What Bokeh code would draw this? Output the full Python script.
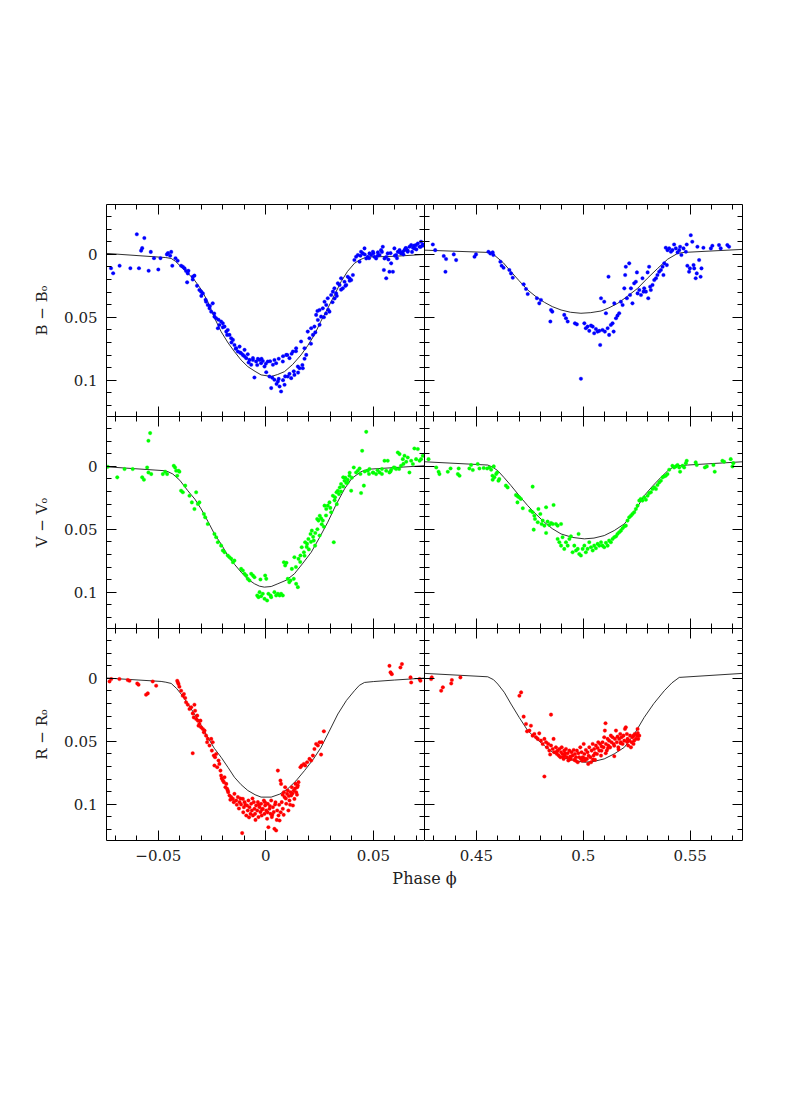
from bokeh.plotting import figure
from bokeh.layouts import column, row
from bokeh.models import (Range1d, LinearAxis, SingleIntervalTicker,
                          CustomJSTickFormatter, Label)
from bokeh.embed import file_html
from bokeh.resources import INLINE

# ---------------- data: (phase, delta-mag) ----------------
b_primary = [
    (-0.072, 0.011), (-0.071, 0.015), (-0.068, 0.009), (-0.063, 0.011), (-0.060, -0.016),
    (-0.059, 0.011), (-0.058, -0.003), (-0.0575, -0.005), (-0.0565, -0.013), (-0.0545, 0.013),
    (-0.0535, -0.002), (-0.052, 0.003), (-0.050, 0.012), (-0.049, 0.003), (-0.046, 0.0),
    (-0.0455, -0.001), (-0.0445, 0.001), (-0.044, -0.002), (-0.0435, 0.009), (-0.042, 0.003),
    (-0.041, 0.005), (-0.0394, 0.009), (-0.0386, 0.0098), (-0.0378, 0.0111), (-0.0371, 0.0132),
    (-0.0366, 0.0222), (-0.0363, 0.0151), (-0.034, 0.0177), (-0.0332, 0.0169), (-0.0309, 0.0283),
    (-0.0301, 0.0296), (-0.0293, 0.031), (-0.0278, 0.0376), (-0.027, 0.0402), (-0.0262, 0.0429),
    (-0.0254, 0.0455), (-0.0247, 0.0389), (-0.0239, 0.0495), (-0.0231, 0.0508), (-0.0223, 0.0587),
    (-0.0216, 0.0561), (-0.0208, 0.0534), (-0.02, 0.0548), (-0.0192, 0.0574), (-0.0184, 0.0614),
    (-0.0177, 0.0601), (-0.0169, 0.064), (-0.0161, 0.0667), (-0.0153, 0.068), (-0.0146, 0.072),
    (-0.0138, 0.0746), (-0.013, 0.0772), (-0.0122, 0.0733), (-0.0115, 0.0786), (-0.0107, 0.0799),
    (-0.0099, 0.0759), (-0.0091, 0.0825), (-0.0084, 0.0794), (-0.0076, 0.0839), (-0.0068, 0.0878),
    (-0.006, 0.0825), (-0.0053, 0.0979), (-0.0045, 0.0852), (-0.0037, 0.0831), (-0.0029, 0.0839),
    (-0.0022, 0.0865), (-0.0014, 0.0847), (-0.0006, 0.0892), (0.0002, 0.0937), (0.0009, 0.0852),
    (0.0017, 0.0971), (0.0025, 0.1063), (0.0033, 0.0878), (0.004, 0.0997), (0.0048, 0.0865),
    (0.0056, 0.1011), (0.0064, 0.105), (0.0071, 0.109), (0.0079, 0.0852), (0.0087, 0.1037),
    (0.0095, 0.0799), (0.0102, 0.0971), (0.011, 0.0825), (0.0118, 0.0984), (0.0126, 0.0772),
    (0.0133, 0.0958), (0.0141, 0.0746), (0.0149, 0.0892), (0.0157, 0.0905), (0.0164, 0.0693),
    (0.0172, 0.0905), (0.018, 0.0746), (0.0188, 0.0799), (0.0195, 0.0614), (0.0203, 0.0667),
    (0.0211, 0.0587), (0.0219, 0.064), (0.0226, 0.0574), (0.0234, 0.0481), (0.0242, 0.0521),
    (0.025, 0.0442), (0.0257, 0.0495), (0.0265, 0.0429), (0.0273, 0.0376), (0.0281, 0.0402),
    (0.0288, 0.0349), (0.0296, 0.0455), (0.0304, 0.0323), (0.0312, 0.0296), (0.0319, 0.027),
    (0.0327, 0.031), (0.0335, 0.023), (0.0343, 0.0243), (0.035, 0.019), (0.0358, 0.027),
    (0.0366, 0.0217), (0.0374, 0.0243), (0.0381, 0.0177), (0.0389, 0.019), (0.0397, 0.0204),
    (0.0405, 0.0164), (0.0412, 0.0045), (0.042, 0.0019), (0.0428, 0.0005), (0.0436, 0.0058),
    (0.0443, -0.0021), (0.0451, -0.0008), (0.0459, -0.0048), (0.0467, 0.0032), (0.0474, 0.0019),
    (0.0482, -0.0008), (0.049, 0.0005), (0.0498, -0.0021), (0.0505, 0.0019), (0.0513, 0.0032),
    (0.0521, -0.0016), (0.0529, 0.0005), (0.0536, -0.0034), (0.0544, -0.0061), (0.0549, 0.0124),
    (0.0552, 0.0032), (0.056, 0.019), (0.0567, -0.0008), (0.0575, 0.0138), (0.0583, 0.0071),
    (0.0591, 0.0138), (0.0598, -0.0048), (0.0606, 0.0005), (0.0614, -0.0021), (0.0622, -0.0034),
    (0.0629, -0.0008), (0.0637, -0.0021), (0.0645, -0.0034), (0.0653, -0.0048), (0.066, -0.0021),
    (0.0668, -0.0061), (0.0676, -0.0074), (0.0684, -0.0053), (0.0691, -0.0048), (0.0699, -0.0074),
    (0.0707, -0.0087), (0.0715, -0.0061), (0.0722, -0.0101), (0.073, -0.0079),
    (-0.008, 0.086), (-0.006, 0.084), (-0.004, 0.088), (-0.002, 0.083), (0.0, 0.087),
    (0.002, 0.085), (0.004, 0.084), (0.006, 0.083), (0.008, 0.081), (0.010, 0.080),
    (0.012, 0.079), (0.014, 0.077), (0.003, 0.098), (0.005, 0.103), (0.006, 0.099),
    (0.008, 0.1), (0.009, 0.097), (0.011, 0.095), (0.013, 0.093), (0.015, 0.094),
    (0.017, 0.088), (0.018, 0.083), (-0.03, 0.033), (-0.028, 0.036), (-0.026, 0.041),
    (-0.024, 0.047), (-0.022, 0.052), (-0.02, 0.058), (-0.018, 0.064), (-0.016, 0.07),
    (-0.014, 0.075), (-0.012, 0.078), (-0.01, 0.081), (-0.036, 0.013), (-0.034, 0.02),
    (-0.032, 0.025), (0.021, 0.071), (0.023, 0.062), (0.025, 0.056), (0.027, 0.05),
    (0.029, 0.044), (0.031, 0.038), (0.033, 0.033), (0.035, 0.028), (0.037, 0.025),
    (0.039, 0.021), (0.024, 0.045), (0.028, 0.047), (0.032, 0.035), (0.044, 0.001),
    (0.046, 0.0), (0.048, 0.003), (0.05, -0.001), (0.052, 0.001), (0.054, -0.002),
    (0.056, 0.002), (0.058, -0.001), (0.06, 0.001), (0.062, -0.002), (0.064, 0.0),
    (0.066, -0.003), (0.068, -0.002), (0.07, -0.004), (0.072, -0.006), (0.057, 0.004),
    (0.061, 0.003), (0.065, -0.005), (0.069, -0.007), (0.073, -0.007),
]

b_secondary = [
    (0.4296, -0.0079), (0.4307, -0.0034), (0.4347, 0.0013), (0.4358, 0.0037), (0.4355, 0.0138),
    (0.4394, 0.0), (0.4405, 0.0045), (0.4491, 0.0019), (0.4498, 0.0), (0.4556, -0.0021),
    (0.4565, -0.0008), (0.4576, -0.0016), (0.4579, 0.0005), (0.4612, 0.0058), (0.4618, 0.009),
    (0.4627, 0.0106), (0.4654, 0.0124), (0.4662, 0.0151), (0.467, 0.0185), (0.4721, 0.0238),
    (0.4732, 0.0275), (0.474, 0.0315), (0.4783, 0.0349), (0.4794, 0.0389), (0.4802, 0.0362),
    (0.4849, 0.0442), (0.4855, 0.0455), (0.4846, 0.0534), (0.4911, 0.0481), (0.4919, 0.0508),
    (0.4927, 0.0534), (0.4961, 0.0548), (0.497, 0.0556), (0.5005, 0.0548), (0.5012, 0.0587),
    (0.502, 0.0574), (0.5028, 0.0608), (0.5036, 0.0566), (0.5044, 0.0574), (0.5051, 0.0627),
    (0.5059, 0.0593), (0.5067, 0.0614), (0.5075, 0.0608), (0.5079, 0.072), (0.5083, 0.0349),
    (0.509, 0.0601), (0.5098, 0.0376), (0.5101, 0.0614), (0.5106, 0.0468), (0.5114, 0.0587),
    (0.5118, 0.0177), (0.5121, 0.064), (0.5129, 0.0561), (0.5137, 0.0548), (0.5142, 0.0614),
    (0.5145, 0.0389), (0.5153, 0.0508), (0.516, 0.0487), (0.5168, 0.0468), (0.5176, 0.0376),
    (0.5184, 0.0402), (0.5192, 0.027), (0.5196, 0.0164), (0.5199, 0.0098), (0.5204, 0.0349),
    (0.5215, 0.0071), (0.5219, 0.0323), (0.5223, 0.027), (0.523, 0.0389), (0.5238, 0.023),
    (0.5246, 0.0217), (0.5251, 0.0143), (0.5254, 0.031), (0.5262, 0.0283), (0.527, 0.0323),
    (0.5277, 0.019), (0.5282, 0.0296), (0.5285, 0.027), (0.5293, 0.0296), (0.5301, 0.0143),
    (0.5304, 0.0349), (0.5308, 0.0098), (0.5313, 0.0257), (0.5316, 0.0283), (0.5324, 0.0243),
    (0.5332, 0.0204), (0.534, 0.019), (0.5347, 0.0164), (0.5355, 0.0138), (0.5363, 0.0124),
    (0.5371, 0.0098), (0.5375, 0.0164), (0.5379, 0.0071), (0.5386, -0.0053), (0.5391, 0.0085),
    (0.5394, -0.0034), (0.5402, -0.0048), (0.541, -0.0021), (0.5417, -0.0034), (0.5425, -0.0079),
    (0.5433, -0.0048), (0.5441, -0.0016), (0.5449, -0.0034), (0.5453, -0.0061), (0.5459, 0.0005),
    (0.5469, -0.0048), (0.548, -0.0021), (0.5484, -0.0079), (0.5487, 0.009), (0.5495, 0.0138),
    (0.5499, 0.0111), (0.5503, -0.0153), (0.551, -0.0101), (0.5516, 0.0085), (0.5519, 0.0111),
    (0.5526, 0.019), (0.5531, 0.0151), (0.5534, -0.0061), (0.5542, 0.0045), (0.5549, 0.0177),
    (0.5553, 0.0111), (0.5562, -0.0053), (0.5597, -0.0048), (0.5604, -0.0069), (0.5635, -0.0074),
    (0.5643, -0.0048), (0.5674, -0.0074), (0.5682, -0.0061), (0.4989, 0.0989),
]

v_primary = [
    (-0.0735, 0.0003), (-0.0691, 0.0087), (-0.0657, 0.0021), (-0.0619, 0.0021), (-0.0575, 0.0087),
    (-0.0567, 0.0106), (-0.0552, 0.0008), (-0.0546, -0.0204), (-0.0538, -0.0265), (-0.0546, 0.0048),
    (-0.0533, 0.0061), (-0.0479, 0.0061), (-0.0468, 0.0042), (-0.0459, 0.0061), (-0.0428, -0.0005),
    (-0.0422, 0.0008), (-0.0417, 0.0034), (-0.0412, 0.0074), (-0.0406, 0.0034), (-0.0402, 0.0042),
    (-0.0394, 0.0193), (-0.0386, 0.0206), (-0.0375, 0.0153), (-0.0355, 0.0233), (-0.0344, 0.0286),
    (-0.0332, 0.0339), (-0.0324, 0.0206), (-0.0316, 0.0299), (-0.0309, 0.0286), (-0.0288, 0.0378),
    (-0.0282, 0.0405), (-0.027, 0.0458), (-0.0239, 0.0537), (-0.0231, 0.0563), (-0.0223, 0.0603),
    (-0.0208, 0.063), (-0.02, 0.0669), (-0.0192, 0.0683), (-0.0177, 0.0709), (-0.0169, 0.0722),
    (-0.0161, 0.0735), (-0.0153, 0.0762), (-0.0146, 0.0749), (-0.0115, 0.0815), (-0.0107, 0.0828),
    (-0.0099, 0.0854), (-0.0091, 0.0868), (-0.0084, 0.0894), (-0.0076, 0.0907), (-0.0068, 0.0854),
    (-0.006, 0.0868), (-0.0053, 0.0881), (-0.004, 0.1026), (-0.0034, 0.104), (-0.0029, 0.1),
    (-0.0025, 0.0899), (-0.0022, 0.1032), (-0.0014, 0.1013), (-0.0006, 0.1053), (-0.0003, 0.0868),
    (0.0002, 0.0894), (0.0006, 0.1066), (0.0012, 0.1013), (0.0022, 0.1026), (0.0025, 0.104),
    (0.004, 0.1), (0.0048, 0.1026), (0.0056, 0.1013), (0.0064, 0.1026), (0.0071, 0.1013),
    (0.0079, 0.1026), (0.0084, 0.0762), (0.009, 0.0788), (0.0096, 0.0767), (0.0102, 0.0894),
    (0.0109, 0.0921), (0.0115, 0.0907), (0.0121, 0.0815), (0.013, 0.0894), (0.0133, 0.0722),
    (0.0141, 0.0934), (0.0149, 0.096), (0.0152, 0.0735), (0.0161, 0.0709), (0.0167, 0.0643),
    (0.0177, 0.0683), (0.0183, 0.0603), (0.0192, 0.0616), (0.0198, 0.0577), (0.0208, 0.0537),
    (0.0214, 0.0511), (0.0223, 0.059), (0.0229, 0.063), (0.0239, 0.0418), (0.0245, 0.0431),
    (0.0251, 0.0392), (0.0257, 0.0413), (0.0265, 0.0431), (0.0273, 0.0312), (0.0281, 0.0339),
    (0.0288, 0.0312), (0.0296, 0.0286), (0.0304, 0.0365), (0.0312, 0.0233), (0.0316, 0.0603),
    (0.0322, 0.0246), (0.0329, 0.0206), (0.0335, 0.0193), (0.0344, 0.0167), (0.035, 0.014),
    (0.036, 0.0087), (0.0366, 0.0114), (0.0374, 0.0132), (0.0381, 0.0106), (0.0389, 0.0074),
    (0.0397, 0.0193), (0.0409, 0.0008), (0.042, 0.0048), (0.0428, 0.0034), (0.0436, 0.0016),
    (0.0443, 0.0212), (0.0448, -0.0124), (0.0456, 0.0153), (0.0467, -0.0275), (0.0474, 0.0034),
    (0.0482, 0.0021), (0.0498, 0.0048), (0.0513, 0.0061), (0.0529, 0.0048), (0.054, 0.0021),
    (0.0552, -0.0045), (0.056, 0.0034), (0.0567, -0.0045), (0.0575, 0.0048), (0.0583, 0.0026),
    (0.0595, 0.0008), (0.0606, 0.0021), (0.0614, -0.0111), (0.0622, -0.0098), (0.0629, -0.0005),
    (0.0637, -0.0058), (0.0645, -0.0085), (0.0653, -0.0037), (0.066, -0.0071), (0.0668, 0.0048),
    (0.0676, -0.0045), (0.0684, -0.0019), (0.0691, -0.0143), (0.0699, -0.0058), (0.0707, -0.0138),
    (0.0715, -0.0045), (0.0722, -0.0058), (0.073, -0.0085),
    (0.014, 0.08), (0.016, 0.076), (0.018, 0.071), (0.02, 0.066), (0.022, 0.056),
    (0.024, 0.05), (0.026, 0.046), (0.028, 0.039), (0.03, 0.033), (0.032, 0.027),
    (0.034, 0.022), (0.036, 0.016), (0.038, 0.013), (0.04, 0.009), (0.025, 0.055),
    (0.027, 0.048), (0.019, 0.064), (0.021, 0.06), (0.023, 0.053), (0.033, 0.03),
    (0.035, 0.02), (0.037, 0.009), (0.039, 0.005), (0.044, 0.006), (0.046, 0.004),
    (0.048, 0.006), (0.05, 0.005), (0.052, 0.003), (0.054, 0.006), (0.058, 0.004),
    (0.06, 0.001), (0.062, 0.002), (0.064, -0.002),
]

v_secondary = [
    (0.4276, -0.0058), (0.4312, 0.0008), (0.4323, 0.0042), (0.4327, 0.0061), (0.4366, 0.0042),
    (0.4379, 0.0016), (0.4413, 0.0061), (0.4421, 0.0074), (0.4417, 0.0016), (0.4467, 0.0016),
    (0.4475, -0.0011), (0.4483, 0.0029), (0.4506, -0.0019), (0.4514, 0.0016), (0.4534, 0.0013),
    (0.455, 0.0016), (0.4561, 0.0008), (0.4569, 0.0026), (0.4581, 0.0), (0.4575, 0.0074),
    (0.4584, 0.0087), (0.4592, 0.0061), (0.4597, 0.0048), (0.4603, 0.0114), (0.4607, 0.0101),
    (0.4576, 0.0106), (0.4638, 0.0153), (0.4646, 0.0167), (0.4685, 0.0228), (0.4693, 0.0238),
    (0.47, 0.0246), (0.4692, 0.0286), (0.4708, 0.0259), (0.4717, 0.0333), (0.4752, 0.0352),
    (0.4763, 0.0161), (0.4763, 0.0365), (0.4771, 0.0392), (0.4774, 0.0418), (0.4768, 0.0503),
    (0.4787, 0.0444), (0.479, 0.0339), (0.4799, 0.0378), (0.4805, 0.0458), (0.481, 0.0431),
    (0.4818, 0.0471), (0.4826, 0.0325), (0.4826, 0.0529), (0.4833, 0.0439), (0.4841, 0.0466),
    (0.4849, 0.045), (0.4857, 0.0458), (0.4861, 0.0307), (0.4872, 0.0458), (0.488, 0.0471),
    (0.4896, 0.0458), (0.488, 0.0577), (0.4888, 0.0603), (0.4896, 0.063), (0.4903, 0.0563),
    (0.4911, 0.0656), (0.4919, 0.0603), (0.4927, 0.063), (0.4935, 0.0577), (0.4942, 0.0556),
    (0.495, 0.0683), (0.4958, 0.063), (0.4966, 0.0669), (0.4974, 0.0656), (0.4978, 0.0537),
    (0.4981, 0.0696), (0.4989, 0.0709), (0.4997, 0.0656), (0.5005, 0.063), (0.5012, 0.0683),
    (0.502, 0.0656), (0.5028, 0.0603), (0.5036, 0.0643), (0.5044, 0.0669), (0.5051, 0.063),
    (0.5059, 0.0651), (0.5067, 0.0616), (0.5075, 0.063), (0.5083, 0.0603), (0.509, 0.063),
    (0.5098, 0.0643), (0.5106, 0.0608), (0.5114, 0.063), (0.5121, 0.059), (0.5129, 0.0603),
    (0.5137, 0.0577), (0.5145, 0.0563), (0.5153, 0.0556), (0.516, 0.0537), (0.5168, 0.0524),
    (0.5176, 0.0511), (0.5184, 0.0492), (0.5192, 0.0476), (0.5199, 0.0471), (0.5207, 0.0431),
    (0.5215, 0.0405), (0.5223, 0.0392), (0.523, 0.0378), (0.5238, 0.0365), (0.5246, 0.0339),
    (0.5254, 0.0312), (0.5262, 0.0272), (0.5269, 0.0259), (0.5277, 0.0272), (0.5285, 0.0246),
    (0.5293, 0.0265), (0.5301, 0.0233), (0.5308, 0.0212), (0.5316, 0.0206), (0.5324, 0.018),
    (0.5332, 0.0167), (0.534, 0.018), (0.5347, 0.0148), (0.5355, 0.0127), (0.5363, 0.0114),
    (0.5371, 0.0087), (0.5379, 0.0079), (0.5386, 0.0074), (0.5394, 0.0061), (0.5402, 0.0026),
    (0.5417, -0.0005), (0.5425, 0.0008), (0.5433, 0.0), (0.5441, -0.0011), (0.5449, 0.0008),
    (0.5453, 0.0042), (0.5464, -0.0005), (0.5472, 0.0008), (0.548, -0.0026), (0.5484, -0.0045),
    (0.5526, -0.0032), (0.5531, -0.0011), (0.5569, 0.0008), (0.5578, 0.0), (0.5609, -0.0011),
    (0.5615, 0.0042), (0.5651, -0.0045), (0.5659, -0.0037), (0.569, -0.0058), (0.5698, 0.0),
    (0.5702, -0.0026),
]

r_primary = [
    (-0.0727, 0.0024), (-0.0719, 0.0005), (-0.0681, 0.0005), (-0.0642, 0.0013), (-0.0634, 0.0019),
    (-0.0598, 0.004), (-0.0592, 0.005), (-0.0557, 0.013), (-0.0549, 0.0119), (-0.0526, 0.0024),
    (-0.051, 0.0058), (-0.0412, 0.0019), (-0.0409, 0.0032), (-0.0406, 0.0045), (-0.0402, 0.0066),
    (-0.0394, 0.0098), (-0.0386, 0.0138), (-0.0381, 0.0124), (-0.0375, 0.0156), (-0.0371, 0.019),
    (-0.0363, 0.0209), (-0.0355, 0.0243), (-0.0347, 0.023), (-0.034, 0.0278), (-0.0335, 0.031),
    (-0.0332, 0.0209), (-0.0329, 0.0257), (-0.0324, 0.0323), (-0.0319, 0.0296), (-0.0316, 0.0336),
    (-0.0313, 0.0376), (-0.0309, 0.0362), (-0.0304, 0.0336), (-0.0301, 0.0389), (-0.0293, 0.0402),
    (-0.0288, 0.0429), (-0.0285, 0.0415), (-0.034, 0.0595), (-0.0278, 0.0455), (-0.0273, 0.0508),
    (-0.027, 0.0481), (-0.0262, 0.0534), (-0.0254, 0.0481), (-0.0251, 0.0574), (-0.0247, 0.0508),
    (-0.0242, 0.0614), (-0.0239, 0.0693), (-0.0236, 0.0627), (-0.0231, 0.0601), (-0.0226, 0.0706),
    (-0.022, 0.0653), (-0.0216, 0.068), (-0.0211, 0.0733), (-0.0208, 0.0772), (-0.02, 0.0812),
    (-0.0195, 0.0825), (-0.0192, 0.0786), (-0.0184, 0.0839), (-0.018, 0.0878), (-0.0177, 0.0892),
    (-0.0169, 0.0931), (-0.0161, 0.0944), (-0.0153, 0.0958), (-0.0149, 0.0984), (-0.0146, 0.0918),
    (-0.0138, 0.0971), (-0.013, 0.0944), (-0.0122, 0.0984), (-0.0115, 0.1003), (-0.011, 0.123),
    (-0.0107, 0.0958), (-0.0102, 0.1024), (-0.0099, 0.0984), (-0.0091, 0.109), (-0.0087, 0.1011),
    (-0.0084, 0.105), (-0.0081, 0.0971), (-0.0076, 0.1024), (-0.0071, 0.1077), (-0.0068, 0.0997),
    (-0.0065, 0.105), (-0.006, 0.109), (-0.0056, 0.0984), (-0.0053, 0.1037), (-0.005, 0.1077),
    (-0.0045, 0.1011), (-0.004, 0.105), (-0.0037, 0.0984), (-0.0034, 0.1103), (-0.0029, 0.1024),
    (-0.0025, 0.1063), (-0.0022, 0.0997), (-0.0019, 0.109), (-0.0014, 0.1037), (-0.0009, 0.0971),
    (-0.0006, 0.1077), (-0.0003, 0.1011), (0.0002, 0.105), (0.0006, 0.1116), (0.0009, 0.0997),
    (0.0012, 0.1183), (0.0017, 0.1037), (0.0022, 0.1077), (0.0025, 0.0971), (0.0028, 0.1103),
    (0.0033, 0.1024), (0.0037, 0.1063), (0.004, 0.1196), (0.0043, 0.1003), (0.0048, 0.1209),
    (0.0053, 0.105), (0.0056, 0.0733), (0.0059, 0.109), (0.0064, 0.113), (0.0068, 0.0812),
    (0.0071, 0.0839), (0.0074, 0.0984), (0.0079, 0.1037), (0.0084, 0.0905), (0.0087, 0.0944),
    (0.009, 0.0865), (0.0095, 0.0997), (0.0099, 0.0918), (0.0102, 0.0892), (0.0105, 0.105),
    (0.011, 0.0971), (0.0115, 0.0905), (0.0118, 0.0931), (0.0121, 0.0865), (0.0126, 0.1011),
    (0.013, 0.0892), (0.0133, 0.0958), (0.0138, 0.0839), (0.0141, 0.0905), (0.0146, 0.0865),
    (0.0149, 0.0852), (0.0152, 0.0825), (0.0161, 0.0706), (0.0167, 0.0693), (0.0177, 0.068),
    (0.0183, 0.0693), (0.0192, 0.0667), (0.0203, 0.064), (0.0211, 0.0653), (0.0219, 0.0614),
    (0.0226, 0.0561), (0.0234, 0.0521), (0.0242, 0.0534), (0.025, 0.0508), (0.0257, 0.0606),
    (0.026, 0.0508), (0.027, 0.0421), (0.058, -0.0048), (0.0575, -0.01), (0.0586, -0.0034),
    (0.0626, -0.0087), (0.0633, -0.0114), (0.0673, -0.0008), (0.0676, 0.0032), (0.0715, 0.0005),
    (0.0719, 0.0019),
    (-0.0135, 0.1005), (-0.0125, 0.1035), (-0.0118, 0.0955), (-0.0105, 0.1065), (-0.0095, 0.1005),
    (-0.0078, 0.1105), (-0.0062, 0.0955), (-0.0048, 0.1125), (-0.0032, 0.1005), (-0.0018, 0.1045),
    (-0.0004, 0.0985), (0.0008, 0.1065), (0.0019, 0.1015), (0.003, 0.1085), (0.0045, 0.0985),
    (0.0051, 0.1125), (0.0062, 0.1005), (0.0069, 0.1065), (0.0078, 0.0925), (0.0083, 0.1085),
    (0.0093, 0.0955), (0.0107, 0.0935), (0.0113, 0.1005), (0.0124, 0.0915), (0.0136, 0.0875),
    (0.0145, 0.0925), (-0.0175, 0.0905), (-0.0165, 0.0965), (-0.0188, 0.0865), (-0.0205, 0.0795),
]

r_secondary = [
    (0.4288, 0.0005), (0.4291, -0.0008), (0.4335, 0.0098), (0.4343, 0.0071), (0.4382, 0.004),
    (0.4385, 0.0013), (0.4425, -0.0008), (0.4701, 0.0138), (0.4709, 0.0111), (0.4721, 0.0304),
    (0.4732, 0.0362), (0.4737, 0.0421), (0.4748, 0.0415), (0.4755, 0.0376), (0.4763, 0.0455),
    (0.4771, 0.0442), (0.4779, 0.0468), (0.4787, 0.0481), (0.4794, 0.0437), (0.4802, 0.0495),
    (0.481, 0.0521), (0.4818, 0.0481), (0.4818, 0.078), (0.4826, 0.0508), (0.483, 0.0548),
    (0.4836, 0.0521), (0.4841, 0.0574), (0.4849, 0.0288), (0.4849, 0.0534), (0.4857, 0.0561),
    (0.4861, 0.0481), (0.4864, 0.0587), (0.4872, 0.0548), (0.4877, 0.0601), (0.488, 0.0574),
    (0.4885, 0.0614), (0.4888, 0.0561), (0.4893, 0.0627), (0.4896, 0.0587), (0.4899, 0.0548),
    (0.4903, 0.0601), (0.4908, 0.064), (0.4911, 0.0574), (0.4914, 0.0614), (0.4919, 0.0561),
    (0.4924, 0.0627), (0.4927, 0.0595), (0.493, 0.0653), (0.4935, 0.0574), (0.4939, 0.0622),
    (0.4942, 0.064), (0.4945, 0.0587), (0.495, 0.0614), (0.4955, 0.0569), (0.4958, 0.0648),
    (0.4961, 0.0601), (0.4966, 0.0627), (0.497, 0.0574), (0.4974, 0.0667), (0.4977, 0.0595),
    (0.4981, 0.0627), (0.4986, 0.0548), (0.4989, 0.064), (0.4992, 0.0587), (0.4997, 0.0627),
    (0.5002, 0.0521), (0.5005, 0.0601), (0.5008, 0.0653), (0.5012, 0.0569), (0.5017, 0.064),
    (0.502, 0.0587), (0.5023, 0.068), (0.5028, 0.0548), (0.5033, 0.0627), (0.5036, 0.0667),
    (0.5039, 0.0574), (0.5044, 0.0521), (0.5048, 0.0614), (0.5051, 0.0561), (0.5055, 0.0648),
    (0.5059, 0.0534), (0.5064, 0.0601), (0.5067, 0.0553), (0.507, 0.0508), (0.5075, 0.0574),
    (0.5079, 0.0521), (0.5083, 0.0614), (0.5086, 0.0542), (0.509, 0.0508), (0.5095, 0.0548),
    (0.5098, 0.0468), (0.5101, 0.0415), (0.5104, 0.0357), (0.5106, 0.0521), (0.511, 0.0574),
    (0.5114, 0.0481), (0.5117, 0.0534), (0.5121, 0.0495), (0.5126, 0.0548), (0.5129, 0.0455),
    (0.5132, 0.0508), (0.5137, 0.0468), (0.5142, 0.0521), (0.5145, 0.0619), (0.5148, 0.0481),
    (0.5153, 0.0415), (0.5157, 0.0508), (0.516, 0.0463), (0.5164, 0.0548), (0.5168, 0.0481),
    (0.5173, 0.0442), (0.5176, 0.0508), (0.5179, 0.0468), (0.5184, 0.0521), (0.5188, 0.0455),
    (0.5192, 0.0495), (0.5195, 0.0402), (0.5199, 0.0389), (0.5204, 0.0442), (0.5207, 0.0481),
    (0.521, 0.0534), (0.5215, 0.0495), (0.5219, 0.0455), (0.5223, 0.0548), (0.5226, 0.0508),
    (0.523, 0.0468), (0.5235, 0.0521), (0.5238, 0.0495), (0.5241, 0.0442), (0.5246, 0.0481),
    (0.5251, 0.0455), (0.5254, 0.0402), (0.5257, 0.0481), (0.5262, 0.0455),
    (0.4875, 0.0585), (0.4905, 0.0625), (0.4935, 0.0645), (0.4965, 0.0655), (0.4995, 0.0655),
    (0.5025, 0.0615), (0.5055, 0.0595), (0.5085, 0.0575), (0.5115, 0.0555), (0.5145, 0.0535),
    (0.5175, 0.0515), (0.5205, 0.0505), (0.5235, 0.0455), (0.5255, 0.0435), (0.4845, 0.0605),
    (0.4915, 0.0595), (0.5005, 0.0635), (0.5045, 0.0645), (0.5105, 0.0595), (0.5165, 0.0565),
]

# model light curves (phase, delta-mag)
b_model_primary = [(-0.0741, -0.0008), (-0.0465, 0.0025), (-0.044, 0.0032), (-0.042, 0.0055),
                   (-0.0394, 0.0098), (-0.0365, 0.0145), (-0.0332, 0.0204), (-0.030, 0.028),
                   (-0.027, 0.0376), (-0.024, 0.050), (-0.0208, 0.0614), (-0.0175, 0.0705),
                   (-0.0146, 0.0773), (-0.0115, 0.084), (-0.0084, 0.0892), (-0.005, 0.093),
                   (-0.0022, 0.0958), (0.0025, 0.0971), (0.0055, 0.0955), (0.0087, 0.0932),
                   (0.0125, 0.0875), (0.0164, 0.0799), (0.0195, 0.0725), (0.0226, 0.064),
                   (0.0255, 0.0535), (0.0288, 0.0429), (0.032, 0.032), (0.035, 0.0217),
                   (0.038, 0.0135), (0.0412, 0.0071), (0.0435, 0.0045), (0.0459, 0.0027),
                   (0.049, 0.002), (0.0598, 0.0015), (0.0741, 0.0)]
b_model_secondary = [(0.4257, -0.0034), (0.4553, -0.0016), (0.457, -0.0008), (0.4584, 0.0006),
                     (0.4625, 0.0065), (0.4662, 0.0138), (0.470, 0.021), (0.474, 0.0283),
                     (0.478, 0.0338), (0.4818, 0.0381), (0.4855, 0.0415), (0.4896, 0.0442),
                     (0.494, 0.046), (0.4989, 0.0468), (0.5035, 0.0463), (0.5083, 0.045),
                     (0.512, 0.0425), (0.5161, 0.0389), (0.5205, 0.0335), (0.5254, 0.027),
                     (0.530, 0.019), (0.5348, 0.0111), (0.5395, 0.0038), (0.5441, -0.0008),
                     (0.5472, -0.0016), (0.5745, -0.004)]
v_model_primary = [(-0.0741, 0.0003), (-0.0472, 0.0034), (-0.0455, 0.0042), (-0.0433, 0.006),
                   (-0.040, 0.011), (-0.0363, 0.0193), (-0.033, 0.026), (-0.0301, 0.0338),
                   (-0.027, 0.0435), (-0.0239, 0.0537), (-0.0205, 0.0625), (-0.0177, 0.0709),
                   (-0.0145, 0.078), (-0.0115, 0.0841), (-0.0085, 0.0895), (-0.0053, 0.0933),
                   (-0.003, 0.0952), (-0.0007, 0.096), (0.0025, 0.0955), (0.0056, 0.0933),
                   (0.0095, 0.0905), (0.0133, 0.0854), (0.017, 0.0775), (0.0211, 0.0683),
                   (0.025, 0.0565), (0.0288, 0.0444), (0.0325, 0.031), (0.0366, 0.0179),
                   (0.040, 0.0095), (0.0443, 0.0042), (0.0465, 0.0028), (0.049, 0.0021),
                   (0.0741, -0.0006)]
v_model_secondary = [(0.4257, -0.0037), (0.4553, -0.0011), (0.4578, 0.0008), (0.46, 0.0034),
                     (0.463, 0.009), (0.4662, 0.0153), (0.470, 0.0232), (0.474, 0.0312),
                     (0.478, 0.0382), (0.4818, 0.0444), (0.4855, 0.0495), (0.4896, 0.0537),
                     (0.495, 0.0565), (0.5005, 0.0576), (0.505, 0.057), (0.5098, 0.055),
                     (0.5145, 0.051), (0.5192, 0.0457), (0.524, 0.036), (0.5285, 0.0233),
                     (0.5325, 0.0155), (0.5363, 0.0087), (0.5395, 0.0035), (0.5425, 0.0),
                     (0.5455, -0.0007), (0.5488, -0.0011), (0.5745, -0.0037)]
r_model_primary = [(-0.0741, -0.0003), (-0.0487, 0.0024), (-0.0465, 0.003), (-0.044, 0.004),
                   (-0.0415, 0.008), (-0.0394, 0.0124), (-0.0365, 0.0195), (-0.0332, 0.0283),
                   (-0.030, 0.0375), (-0.027, 0.0468), (-0.024, 0.0555), (-0.0208, 0.0627),
                   (-0.0175, 0.071), (-0.0146, 0.0786), (-0.0115, 0.0845), (-0.0084, 0.0891),
                   (-0.005, 0.0925), (-0.0022, 0.0944), (0.0025, 0.0944), (0.0065, 0.092),
                   (0.0102, 0.0878), (0.014, 0.0815), (0.018, 0.0733), (0.022, 0.0645),
                   (0.0257, 0.0548), (0.0295, 0.042), (0.0335, 0.0283), (0.0375, 0.0175),
                   (0.0412, 0.0098), (0.0435, 0.0055), (0.0459, 0.0032), (0.050, 0.0025),
                   (0.0598, 0.0013), (0.0741, -0.0003)]
r_model_secondary = [(0.4257, -0.004), (0.4553, -0.0013), (0.458, 0.001), (0.46, 0.0045),
                     (0.463, 0.011), (0.4662, 0.0204), (0.470, 0.031), (0.474, 0.0415),
                     (0.478, 0.048), (0.4818, 0.0534), (0.4855, 0.0585), (0.4896, 0.0627),
                     (0.495, 0.065), (0.5005, 0.0667), (0.505, 0.066), (0.5098, 0.064),
                     (0.5145, 0.06), (0.5192, 0.0548), (0.524, 0.044), (0.5285, 0.031),
                     (0.533, 0.02), (0.5379, 0.0098), (0.5415, 0.0035), (0.5449, -0.0008),
                     (0.5745, -0.004)]

band_labels = ["B \u2212 B\u2092", "V \u2212 V\u2092", "R \u2212 R\u2092"]
band_colors = ["#0000ff", "#00ff00", "#ff0000"]
x_label = "Phase \u03d5"

# ---------------- layout constants ----------------
FW, FH = 318, 212
LEFT_B, TOP_B, RIGHT_B, BOT_B = 106, 204, 15, 28
FONT = "DejaVu Serif"
TXT = "#222222"

fmt = CustomJSTickFormatter(code="""
    var s = Number(tick.toFixed(4)).toString();
    return s.replace('-', '\\u2212');
""")
blank_fmt = CustomJSTickFormatter(code="return '';")


def make_axis(show_labels, label=None):
    ax = LinearAxis(ticker=SingleIntervalTicker(interval=0.05, num_minor_ticks=5),
                    formatter=fmt if show_labels else blank_fmt,
                    major_tick_in=10, major_tick_out=0,
                    minor_tick_in=5, minor_tick_out=0,
                    axis_line_color="black", axis_line_width=1,
                    major_tick_line_color="black", minor_tick_line_color="black",
                    major_label_text_font=FONT, major_label_text_color=TXT)
    if show_labels:
        ax.major_label_text_font_size = "15px"
        ax.major_label_standoff = 9
    else:
        ax.major_label_text_font_size = "1px"
        ax.major_label_standoff = 0
    if label is not None:
        ax.axis_label = label
        ax.axis_label_text_font = FONT
        ax.axis_label_text_font_size = "15px"
        ax.axis_label_text_font_style = "normal"
        ax.axis_label_text_color = TXT
        ax.axis_label_standoff = 10
    return ax


def panel(points, model, color, xr, col, rowi):
    left_col = col == 0
    bottom = rowi == 2
    p = figure(frame_width=FW, frame_height=FH,
               x_range=Range1d(*xr), y_range=Range1d(0.1289, -0.0397),
               output_backend="svg", toolbar_location=None,
               x_axis_location=None, y_axis_location=None,
               min_border_left=LEFT_B if left_col else 0,
               min_border_right=0 if left_col else RIGHT_B,
               min_border_top=TOP_B if rowi == 0 else 0,
               min_border_bottom=BOT_B if bottom else 0,
               outline_line_color=None,
               background_fill_color="white", border_fill_color="white")
    p.grid.visible = False
    p.add_layout(make_axis(left_col, band_labels[rowi] if left_col else None), "left")
    p.add_layout(make_axis(False), "right")
    p.add_layout(make_axis(False), "above")
    p.add_layout(make_axis(bottom), "below")
    model = sorted(model)
    mx = [a for a, b in model]
    my = [b for a, b in model]
    p.line(mx, my, line_color="#1a1a1a", line_width=0.9)
    px = [a for a, b in points]
    py = [b for a, b in points]
    p.scatter(px, py, marker="circle", size=3.6, fill_color=color, line_color=color,
              line_width=0.3)
    return p


data = [(b_primary, b_model_primary, b_secondary, b_model_secondary),
        (v_primary, v_model_primary, v_secondary, v_model_secondary),
        (r_primary, r_model_primary, r_secondary, r_model_secondary)]

rows = []
for i, (pp, pm, sp, sm) in enumerate(data):
    left = panel(pp, pm, band_colors[i], (-0.0741, 0.0738), 0, i)
    right = panel(sp, sm, band_colors[i], (0.4257, 0.5745), 1, i)
    rows.append(row(left, right))

TOTAL_W = LEFT_B + 2 * FW + RIGHT_B
strip = figure(width=TOTAL_W, height=20,
               x_range=Range1d(0, TOTAL_W), y_range=Range1d(0, 20),
               output_backend="svg", toolbar_location=None,
               x_axis_location=None, y_axis_location=None,
               min_border=0, outline_line_color=None)
strip.grid.visible = False
strip.add_layout(Label(x=LEFT_B + FW, y=10, text=x_label, text_align="center",
                       text_baseline="middle", text_font=FONT, text_font_size="16px",
                       text_color=TXT))

layout = column(*rows, strip)
open("out.html", "w").write(file_html(layout, INLINE))
